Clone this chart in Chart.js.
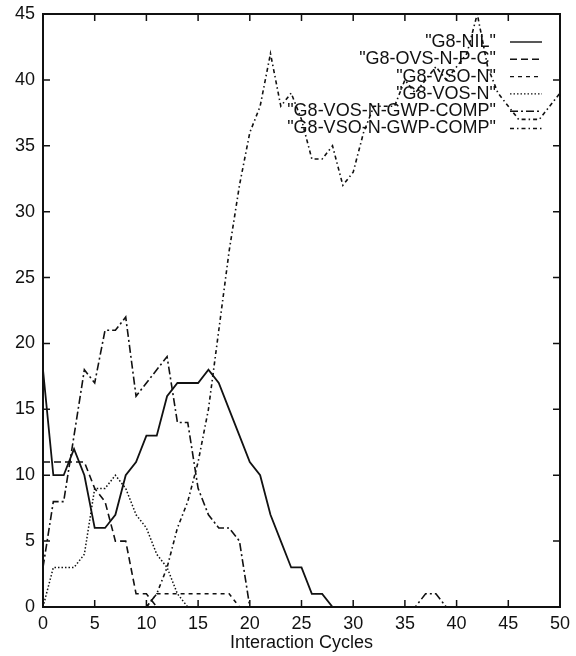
<!DOCTYPE html>
<html>
<head>
<meta charset="utf-8">
<script src="https://cdn.jsdelivr.net/npm/chart.js@4.4.1/dist/chart.umd.min.js"></script>
<style>
  html, body { margin: 0; padding: 0; background: #fff; }
  canvas { display: block; }
</style>
</head>
<body>
<canvas id="chart" width="576" height="656"></canvas>
<script>
// ---------------------------------------------------------------------
// data (x = interaction cycle)
// ---------------------------------------------------------------------
const cycles = [0,1,2,3,4,5,6,7,8,9,10,11,12,13,14,15,16,17,18,19,20,21,22,23,24,25,
    26,27,28,29,30,31,32,33,34,35,36,37,38,39,40,41,42,43,44,45,46,47,48,49,50];

const nil = [18,10,10,12,10,6,6,7,10,11,13,13,16,17,17,17,18,17,15,13,11,10,7,5,3,3,
    1,1,0,0,0,0,0,0,0,0,0,0,0,0,0,0,0,0,0,0,0,0,0,0,0];
const ovsNPC = [11,11,11,11,11,9,8,5,5,1,1,0,0,0,0,0,0,0,0,0,0,0,0,0,0,0,
    0,0,0,0,0,0,0,0,0,0,0,0,0,0,0,0,0,0,0,0,0,0,0,0,0];
const vsoN = [0,0,0,0,0,0,0,0,0,0,0,1,1,1,1,1,1,1,1,0,0,0,0,0,0,0,
    0,0,0,0,0,0,0,0,0,0,0,0,0,0,0,0,0,0,0,0,0,0,0,0,0];
const vosN = [0,3,3,3,4,9,9,10,9,7,6,4,3,1,0,0,0,0,0,0,0,0,0,0,0,0,
    0,0,0,0,0,0,0,0,0,0,0,0,0,0,0,0,0,0,0,0,0,0,0,0,0];
const vosGwp = [3,8,8,13,18,17,21,21,22,16,17,18,19,14,14,9,7,6,6,5,0,0,0,0,0,0,
    0,0,0,0,0,0,0,0,0,0,0,1,1,0,0,0,0,0,0,0,0,0,0,0,0];
const vsoGwp = [0,0,0,0,0,0,0,0,0,0,0,1,3,6,8,11,15,21,27,32,36,38,42,38,39,37,
    34,34,35,32,33,36,38,38,38,40,39,40,41,40,41,42,45,41,39,38,37,37,37,38,39];

const xTicks = [0,5,10,15,20,25,30,35,40,45,50];
const yTicks = [0,5,10,15,20,25,30,35,40,45];

const INK = "#111";
const FONT = "Liberation Sans, Arial, Helvetica, sans-serif";

const series = [
    { label: '"G8-NIL"', values: nil, dash: [], width: 1.8 },
    { label: '"G8-OVS-N-P-C"', values: ovsNPC, dash: [7, 4], width: 1.6 },
    { label: '"G8-VSO-N"', values: vsoN, dash: [4, 4], width: 1.6 },
    { label: '"G8-VOS-N"', values: vosN, dash: [1.5, 2], width: 1.5 },
    { label: '"G8-VOS-N-GWP-COMP"', values: vosGwp, dash: [8, 3, 2, 3], width: 1.6 },
    { label: '"G8-VSO-N-GWP-COMP"', values: vsoGwp, dash: [4, 3, 1.5, 3], width: 1.6 }
];

// gnuplot style frame with inward ticks on all four sides
const framePlugin = {
    id: "frame",
    afterDatasetsDraw(chart) {
        const { ctx, chartArea: a, scales } = chart;
        const len = 7;
        ctx.save();
        ctx.strokeStyle = INK;
        ctx.lineWidth = 2;
        ctx.strokeRect(a.left, a.top, a.right - a.left, a.bottom - a.top);
        ctx.lineWidth = 1.5;
        ctx.beginPath();
        xTicks.forEach((v) => {
            const px = scales.x.getPixelForValue(v);
            ctx.moveTo(px, a.bottom); ctx.lineTo(px, a.bottom - len);
            ctx.moveTo(px, a.top); ctx.lineTo(px, a.top + len);
        });
        yTicks.forEach((v) => {
            const py = scales.y.getPixelForValue(v);
            ctx.moveTo(a.left, py); ctx.lineTo(a.left + len, py);
            ctx.moveTo(a.right, py); ctx.lineTo(a.right - len, py);
        });
        ctx.stroke();
        ctx.restore();
    }
};

// key in the top right corner: text right aligned, line sample after it
const keyPlugin = {
    id: "key",
    afterDatasetsDraw(chart) {
        const { ctx } = chart;
        const textRight = 496, x0 = 510, x1 = 542, y0 = 42, step = 17.3;
        ctx.save();
        ctx.font = "18px " + FONT;
        ctx.textAlign = "right";
        ctx.textBaseline = "middle";
        chart.data.datasets.forEach((ds, i) => {
            const y = y0 + i * step;
            ctx.fillStyle = INK;
            ctx.fillText(ds.label, textRight, y);
            ctx.strokeStyle = INK;
            ctx.lineWidth = 1.4;
            ctx.setLineDash(ds.borderDash || []);
            ctx.beginPath();
            ctx.moveTo(x0, y); ctx.lineTo(x1, y);
            ctx.stroke();
        });
        ctx.restore();
    }
};

const datasets = series.map((s) => ({
    label: s.label,
    data: cycles.map((c, i) => ({ x: c, y: s.values[i] })),
    borderColor: INK,
    borderWidth: s.width,
    borderDash: s.dash,
    pointRadius: 0,
    tension: 0,
    fill: false
}));

Chart.defaults.font.family = FONT;
Chart.defaults.color = INK;

new Chart(document.getElementById("chart").getContext("2d"), {
    type: "line",
    data: { datasets },
    options: {
        responsive: false,
        animation: false,
        devicePixelRatio: 1,
        layout: { padding: { left: 0, right: 16, top: 14, bottom: 0 } },
        plugins: { legend: { display: false }, tooltip: { enabled: false } },
        scales: {
            x: {
                type: "linear", min: 0, max: 50,
                afterFit: (s) => { s.height = 49; s.paddingLeft = 0; s.paddingRight = 0; },
                afterBuildTicks: (s) => { s.ticks = xTicks.map((v) => ({ value: v })); },
                grid: { display: false, drawTicks: false },
                border: { display: false },
                ticks: { color: INK, font: { size: 18 }, padding: 6, maxRotation: 0, autoSkip: false },
                title: { display: true, text: "Interaction Cycles", color: INK, font: { size: 18 }, padding: { top: 0, bottom: 2 } }
            },
            y: {
                type: "linear", min: 0, max: 45,
                afterFit: (s) => { s.width = 43; s.paddingTop = 0; s.paddingBottom = 0; },
                afterBuildTicks: (s) => { s.ticks = yTicks.map((v) => ({ value: v })); },
                grid: { display: false, drawTicks: false },
                border: { display: false },
                ticks: { color: INK, font: { size: 18 }, padding: 8 }
            }
        }
    },
    plugins: [framePlugin, keyPlugin]
});
</script>
</body>
</html>
